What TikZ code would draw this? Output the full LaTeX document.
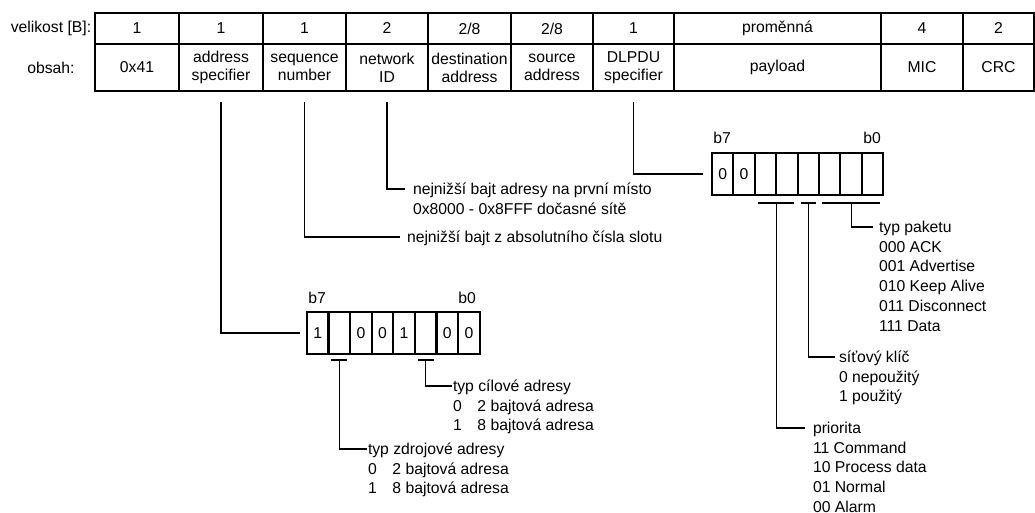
\documentclass[tikz,border=0pt]{standalone}
\usepackage{fontspec}
\setmainfont{Liberation Sans}
% left-aligned block whose baseline is that of its first line
\newcommand\toplines[1]{\begin{tabular}[t]{@{}l@{}}#1\end{tabular}}
\begin{document}
\begin{tikzpicture}[x=0.75pt,y=-0.75pt,
  font=\fontsize{11.8pt}{14.85pt}\selectfont,
  cell/.style={draw, line width=1.5pt, inner sep=0pt, outer sep=0pt, anchor=north west,
    align=center, font=\fontsize{11.8pt}{13.5pt}\selectfont},
  bitcell/.style={draw, line width=1.4pt, inner sep=0pt, outer sep=0pt, anchor=north west,
    minimum width=16.05pt, minimum height=31.5pt},
  wire/.style={line width=0.8pt},
  note/.style={anchor=base west, inner sep=0pt, outer sep=0pt},
  rowlabel/.style={inner sep=0pt}]
\useasboundingbox (0,0) rectangle (1035,513);

% frame table: sizes (top row) and contents (bottom row)
\foreach \k/\l/\r/\sz/\ct in {
   1/95/179/1/0x41,
   2/179/263/1/{address\\specifier},
   3/263/346/1/{sequence\\number},
   4/346/428/2/{network\\ID},
   5/428/511/2\slash 8/{destination\\address},
   6/511/593/2\slash 8/{source\\address},
   7/593/674/1/{DLPDU\\specifier},
   8/674/881/proměnná/payload,
   9/881/963/4/MIC,
   10/963/1034/2/CRC}{
  \node[cell, minimum width={(\r-\l)*0.75pt}, minimum height=23.25pt] (s\k) at (\l,13) {\sz};
  \node[cell, minimum width={(\r-\l)*0.75pt}, minimum height=35.25pt] (c\k) at (\l,44) {\ct};
}
\node[rowlabel] (lsize) at (51,28.5) {velikost [B]:};
\node[rowlabel] (lcont) at (51,67.5) {obsah:};

% DLPDU specifier bits
\foreach \i/\v in {0/0,1/0,2/,3/,4/,5/,6/,7/}
  \node[bitcell] (d\i) at (712+\i*21.4,153) {\v};
\node[inner sep=0pt] (db7) at (722,138) {b7};
\node[inner sep=0pt] (db0) at (872,138) {b0};

% address specifier bits
\foreach \i/\v in {0/1,1/,2/0,3/0,4/1,5/,6/0,7/0}
  \node[bitcell] (a\i) at (307+\i*21.6,312) {\v};
\node[inner sep=0pt] (ab7) at (317,298) {b7};
\node[inner sep=0pt] (ab0) at (467,298) {b0};

% links from the frame fields
\draw[wire] ([yshift=-8.5pt]c2.south) |- ([xshift=-5.25pt]a0.west);
\draw[wire] ([yshift=-8.5pt]c7.south) |- ([xshift=-6.75pt]d0.west);

\coordinate (sqend) at (400,237);
\draw[wire] ([yshift=-8.5pt]c3.south) |- (sqend);
\node[note] (sqtxt) at ([xshift=5.25pt,yshift=-4pt]sqend) {nejnižší bajt z absolutního čísla slotu};

\coordinate (ntend) at (405,189);
\draw[wire] ([yshift=-8.5pt]c4.south) |- (ntend);
\node[note] (nttxt) at ([xshift=6pt,yshift=-4pt]ntend) {\toplines{nejnižší bajt adresy na první místo\\0x8000 - 0x8FFF dočasné sítě}};

% DLPDU specifier bit groups
\draw[wire] ([xshift=2.5pt,yshift=-6pt]d2.south west) -- ([xshift=-2.5pt,yshift=-6pt]d3.south east);
\draw[wire] ([xshift=2.5pt,yshift=-6pt]d4.south west) -- ([xshift=-2.5pt,yshift=-6pt]d4.south east);
\draw[wire] ([xshift=2.5pt,yshift=-6pt]d5.south west) -- ([xshift=-2.5pt,yshift=-6pt]d7.south east);

\coordinate (pkend) at (873,227);
\draw[wire] ([yshift=-6pt]d6.south) |- (pkend);
\node[note] (pktxt) at ([xshift=4.5pt,yshift=-4pt]pkend) {\toplines{typ paketu\\000 ACK\\001 Advertise\\010 Keep Alive\\011 Disconnect\\111 Data}};

\coordinate (keyend) at (835,357);
\draw[wire] ([yshift=-6pt]d4.south) |- (keyend);
\node[note] (keytxt) at ([xshift=3pt,yshift=-4pt]keyend) {\toplines{síťový klíč\\0 nepoužitý\\1 použitý}};

\coordinate (prend) at (805,428);
\draw[wire] ([yshift=-6pt]d2.south east) |- (prend);
\node[note] (prtxt) at ([xshift=6pt,yshift=-4pt]prend) {\toplines{priorita\\11 Command\\10 Process data\\01 Normal\\00 Alarm}};

% address specifier bit groups
\draw[wire] ([xshift=1.5pt,yshift=-4.5pt]a1.south west) -- ([xshift=-2pt,yshift=-4.5pt]a1.south east);
\draw[wire] ([xshift=2.5pt,yshift=-4.5pt]a5.south west) -- ([xshift=-2pt,yshift=-4.5pt]a5.south east);

\coordinate (dstend) at (452,386);
\draw[wire] ([yshift=-4.5pt]a5.south) |- (dstend);
\node[note] (dsttxt) at ([xshift=0.75pt,yshift=-4pt]dstend) {\toplines{typ cílové adresy\\0\quad 2 bajtová adresa\\1\quad 8 bajtová adresa}};

\coordinate (srcend) at (367,449);
\draw[wire] ([yshift=-4.5pt]a1.south) |- (srcend);
\node[note] (srctxt) at ([xshift=0.75pt,yshift=-4pt]srcend) {\toplines{typ zdrojové adresy\\0\quad 2 bajtová adresa\\1\quad 8 bajtová adresa}};
\end{tikzpicture}
\end{document}
